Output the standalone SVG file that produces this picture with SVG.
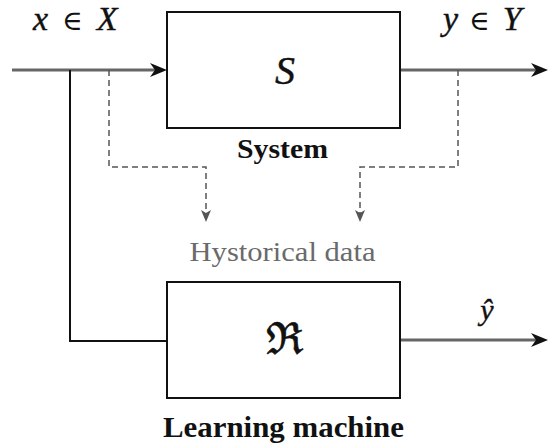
<svg xmlns="http://www.w3.org/2000/svg" width="548" height="445" viewBox="0 0 548 445">
<style>
.box{fill:#fff;stroke:#111;stroke-width:2}
.main{fill:none;stroke:#666;stroke-width:3}
.wire{fill:none;stroke:#111;stroke-width:2}
.dash{fill:none;stroke:#555;stroke-width:1.5;stroke-dasharray:6 4}
.math{font-family:"Liberation Serif","DejaVu Serif",serif;font-style:italic;fill:#111;stroke:#111;stroke-width:0.4}
.sym{font-family:"DejaVu Serif","Liberation Serif",serif;font-style:normal;fill:#111}
.lbl{font-family:"Liberation Serif","DejaVu Serif",serif;font-weight:bold;fill:#111}
.hist{font-family:"Liberation Serif","DejaVu Serif",serif;fill:#6a6a6a}
</style>
<defs>
<marker id="ah" markerUnits="userSpaceOnUse" markerWidth="18" markerHeight="14" refX="7" refY="7" orient="auto">
<path d="M0,0 L17,7 L0,14 L5,7 Z" fill="#111"/>
</marker>
<marker id="dh" markerUnits="userSpaceOnUse" markerWidth="13" markerHeight="11" refX="3" refY="5" orient="auto">
<path d="M0,0 L12,5 L0,10 L3,5 Z" fill="#555"/>
</marker>
</defs>
<g id="connectors">
<path class="main" d="M12,70 H157" marker-end="url(#ah)"/>
<path class="main" d="M400,70 H538" marker-end="url(#ah)"/>
<path class="main" d="M400,340 H538" marker-end="url(#ah)"/>
<path class="wire" d="M70,70 V341 H167"/>
<path class="dash" d="M109,70 V167 H206 V213" marker-end="url(#dh)"/>
<path class="dash" d="M458,70 V167 H360 V213" marker-end="url(#dh)"/>
</g>
<g id="system">
<rect class="box" x="167" y="12" width="233" height="116"/>
<text class="math" x="285" y="84" font-size="40" text-anchor="middle">S</text>
<text class="lbl" x="282.5" y="158" font-size="28" text-anchor="middle" textLength="91" lengthAdjust="spacingAndGlyphs">System</text>
</g>
<g id="learning-machine">
<rect class="box" x="167" y="282" width="233" height="116"/>
<text class="sym" x="284" y="354" font-size="44" text-anchor="middle" stroke="#111" stroke-width="0.6">ℜ</text>
<text class="lbl" x="283.5" y="437" font-size="30" text-anchor="middle" textLength="241" lengthAdjust="spacingAndGlyphs">Learning machine</text>
</g>
<g id="historical-data">
<text class="hist" x="282.5" y="261" font-size="27" text-anchor="middle" textLength="186" lengthAdjust="spacingAndGlyphs">Hystorical data</text>
</g>
<g id="labels">
<text x="33" y="30" font-size="34"><tspan class="math">x</tspan><tspan class="sym" dx="14" font-size="28">∈</tspan><tspan class="math" dx="14">X</tspan></text>
<text x="443" y="30" font-size="34"><tspan class="math">y</tspan><tspan class="sym" dx="11" font-size="28">∈</tspan><tspan class="math" dx="13">Y</tspan></text>
<text class="math" x="487" y="320" font-size="30" text-anchor="middle">ŷ</text>
</g>
</svg>
